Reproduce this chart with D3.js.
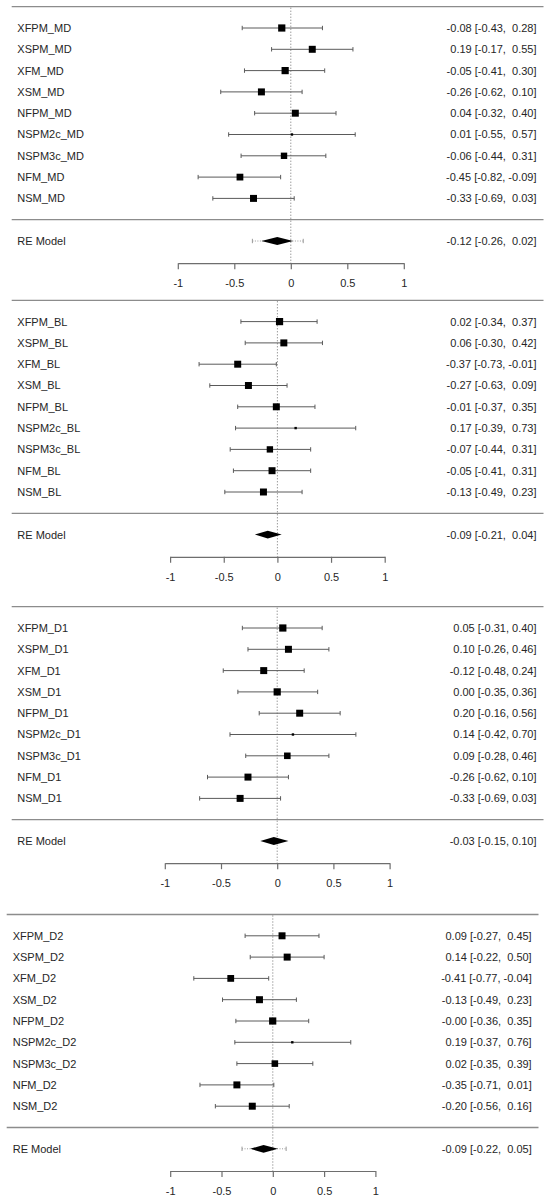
<!DOCTYPE html>
<html>
<head>
<meta charset="utf-8">
<script src="https://cdn.jsdelivr.net/npm/d3@7"></script>
<style>
  body { margin: 0; background: #fff; }
  svg text { font-family: "Liberation Sans", Arial, sans-serif; font-size: 11px; fill: #262626; white-space: pre; }
</style>
</head>
<body>
<svg id="chart" width="550" height="1202"></svg>
<script>
// ---- data ----
const studies = ["XFPM", "XSPM", "XFM", "XSM", "NFPM", "NSPM2c", "NSPM3c", "NFM", "NSM"];
const outcomes = ["MD", "BL", "D1", "D2"];

const estMD = [-0.08, 0.19, -0.05, -0.26, 0.04, 0.01, -0.06, -0.45, -0.33];
const loMD  = [-0.43, -0.17, -0.41, -0.62, -0.32, -0.55, -0.44, -0.82, -0.69];
const hiMD  = [0.28, 0.55, 0.30, 0.10, 0.40, 0.57, 0.31, -0.09, 0.03];

const estBL = [0.02, 0.06, -0.37, -0.27, -0.01, 0.17, -0.07, -0.05, -0.13];
const loBL  = [-0.34, -0.30, -0.73, -0.63, -0.37, -0.39, -0.44, -0.41, -0.49];
const hiBL  = [0.37, 0.42, -0.01, 0.09, 0.35, 0.73, 0.31, 0.31, 0.23];

const estD1 = [0.05, 0.10, -0.12, 0.00, 0.20, 0.14, 0.09, -0.26, -0.33];
const loD1  = [-0.31, -0.26, -0.48, -0.35, -0.16, -0.42, -0.28, -0.62, -0.69];
const hiD1  = [0.40, 0.46, 0.24, 0.36, 0.56, 0.70, 0.46, 0.10, 0.03];

const estD2 = [0.09, 0.14, -0.41, -0.13, -0.001, 0.19, 0.02, -0.35, -0.20];
const loD2  = [-0.27, -0.22, -0.77, -0.49, -0.36, -0.37, -0.35, -0.71, -0.56];
const hiD2  = [0.45, 0.50, -0.04, 0.23, 0.35, 0.76, 0.39, 0.01, 0.16];

// random-effects summary and prediction interval per outcome
const reEst = [-0.12, -0.09, -0.03, -0.09];
const reLo  = [-0.26, -0.21, -0.15, -0.22];
const reHi  = [0.02, 0.04, 0.10, 0.05];
const piLo  = [-0.34, null, null, -0.30];
const piHi  = [0.11, null, null, 0.13];

const axisTicks = [-1, -0.5, 0, 0.5, 1];

// ---- layout (pixel placement of each panel) ----
const layout = [
  { top: 6.7,   left: 11.7, right: 543.5, labelX: 17.3, textX: 536.5, xa: 177.8, xb: 403.8 },
  { top: 300.3, left: 11.7, right: 543.5, labelX: 17.3, textX: 536.5, xa: 170.1, xb: 384.7 },
  { top: 606.7, left: 11.7, right: 543.5, labelX: 17.3, textX: 536.5, xa: 164.8, xb: 389.6 },
  { top: 914.5, left: 6.7,  right: 538.5, labelX: 12.7, textX: 531.7, xa: 170.2, xb: 375.4 }
];
const rowStep = 21.3;
const axisOffset = 256.5;

const panels = [
  { est: estMD, lo: loMD, hi: hiMD },
  { est: estBL, lo: loBL, hi: hiBL },
  { est: estD1, lo: loD1, hi: hiD1 },
  { est: estD2, lo: loD2, hi: hiD2 }
];

const svg = d3.select("#chart");
const f2 = v => v.toFixed(2);

panels.forEach((p, k) => {
  const L = layout[k];
  const x = d3.scaleLinear().domain([-1, 1]).range([L.xa, L.xb]);
  // rows: 0 = first study ... 8 = last, 9 = separator, 10 = summary
  const y = d3.scaleLinear().domain([-1, 10]).range([L.top, L.top + 11 * rowStep]);
  const axisY = L.top + axisOffset;
  const g = svg.append("g");

  const rows = studies.map((s, i) => ({
    name: s + "_" + outcomes[k], est: p.est[i], lo: p.lo[i], hi: p.hi[i], i: i
  }));

  // column formatting like R: pad positives when the column holds negatives
  const allLo = p.lo.concat([reLo[k]]), allHi = p.hi.concat([reHi[k]]);
  const padLo = allLo.some(v => v < 0), padHi = allHi.some(v => v < 0);
  const label = (e, l, h) =>
    `${f2(e)} [${(padLo && l >= 0 ? " " : "") + f2(l)}, ${(padHi && h >= 0 ? " " : "") + f2(h)}]`;

  // box sizes from inverse-variance weights
  const w = rows.map(d => 1 / Math.pow((d.hi - d.lo) / 3.92, 2));
  const size = d3.scaleLinear().domain(d3.extent(w)).range([2.4, 7.2]);

  // horizontal rules
  [y(-1), y(9)].forEach(yy => {
    g.append("line")
      .attr("x1", L.left).attr("x2", L.right)
      .attr("y1", yy).attr("y2", yy)
      .attr("stroke", "#8c8c8c").attr("stroke-width", 1.3);
  });

  // reference line at 0
  g.append("line")
    .attr("x1", x(0)).attr("x2", x(0))
    .attr("y1", y(-1) + 1).attr("y2", axisY)
    .attr("stroke", "#707070").attr("stroke-width", 1)
    .attr("stroke-dasharray", "1,2");

  // CI lines with caps
  const ci = g.selectAll(".ci").data(rows).join("g").attr("class", "ci");
  ci.append("line")
    .attr("x1", d => x(d.lo)).attr("x2", d => x(d.hi))
    .attr("y1", d => y(d.i)).attr("y2", d => y(d.i))
    .attr("stroke", "#5a5a5a").attr("stroke-width", 1);
  ["lo", "hi"].forEach(key => {
    ci.append("line")
      .attr("x1", d => x(d[key])).attr("x2", d => x(d[key]))
      .attr("y1", d => y(d.i) - 2.2).attr("y2", d => y(d.i) + 2.2)
      .attr("stroke", "#5a5a5a").attr("stroke-width", 1);
  });
  ci.append("rect")
    .attr("x", (d, i) => x(d.est) - size(w[i]) / 2)
    .attr("y", (d, i) => y(d.i) - size(w[i]) / 2)
    .attr("width", (d, i) => size(w[i]))
    .attr("height", (d, i) => size(w[i]))
    .attr("fill", "#000");

  // study labels and values
  ci.append("text")
    .attr("x", L.labelX).attr("y", d => y(d.i)).attr("dy", "0.36em")
    .text(d => d.name);
  ci.append("text")
    .attr("x", L.textX).attr("y", d => y(d.i)).attr("dy", "0.36em")
    .attr("text-anchor", "end")
    .text(d => label(d.est, d.lo, d.hi));

  // prediction interval
  const sy = y(10);
  if (piLo[k] !== null) {
    g.append("line")
      .attr("x1", x(piLo[k])).attr("x2", x(piHi[k]))
      .attr("y1", sy).attr("y2", sy)
      .attr("stroke", "#9a9a9a").attr("stroke-dasharray", "1,1.5");
    [piLo[k], piHi[k]].forEach(v => {
      g.append("line")
        .attr("x1", x(v)).attr("x2", x(v))
        .attr("y1", sy - 2.2).attr("y2", sy + 2.2)
        .attr("stroke", "#9a9a9a");
    });
  }

  // summary diamond
  const dh = 3.9;
  g.append("polygon")
    .attr("points", [[x(reLo[k]), sy], [x(reEst[k]), sy - dh], [x(reHi[k]), sy], [x(reEst[k]), sy + dh]]
      .map(q => q.join(",")).join(" "))
    .attr("fill", "#000");
  g.append("text")
    .attr("x", L.labelX).attr("y", sy).attr("dy", "0.36em")
    .text("RE Model");
  g.append("text")
    .attr("x", L.textX).attr("y", sy).attr("dy", "0.36em")
    .attr("text-anchor", "end")
    .text(label(reEst[k], reLo[k], reHi[k]));

  // x axis
  const ax = g.append("g")
    .attr("transform", `translate(0,${axisY})`)
    .call(d3.axisBottom(x).tickValues(axisTicks).tickFormat(d => String(d))
      .tickSize(6).tickSizeOuter(0).tickPadding(10));
  ax.select(".domain").attr("stroke", "#6e6e6e").attr("stroke-width", 1.2);
  ax.selectAll(".tick line").attr("stroke", "#6e6e6e").attr("stroke-width", 1.2);
  ax.selectAll(".tick text")
    .attr("fill", "#262626")
    .style("font-family", "\"Liberation Sans\", Arial, sans-serif")
    .style("font-size", "11px");
});
</script>
</body>
</html>
